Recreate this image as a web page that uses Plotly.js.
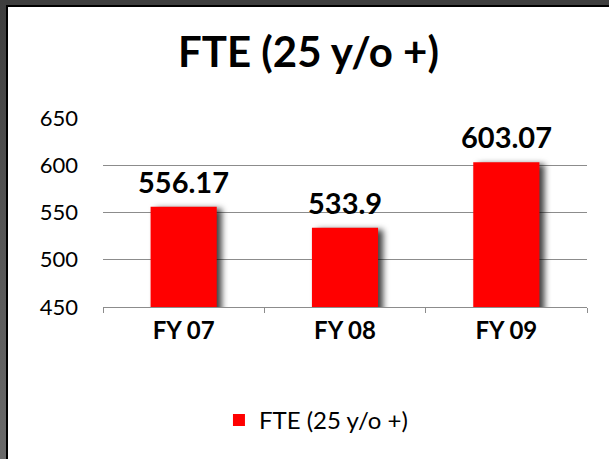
<!DOCTYPE html>
<html>
<head>
<meta charset="utf-8">
<script src="https://cdn.plot.ly/plotly-3.0.1.min.js"></script>
<style>
  html, body { margin: 0; padding: 0; width: 609px; height: 459px; overflow: hidden; background: #3c3c3c; }
  #frame { position: absolute; left: 0; top: 0; width: 609px; height: 459px; background: #3e3e3e; }
  #leftband { position: absolute; left: 0; top: 0; width: 6px; height: 459px;
              background: linear-gradient(to bottom, #3e3e3e 0%, #555 50%, #6a6a6a 100%); }
  #chart { position: absolute; left: 6px; top: 5px; width: 603px; height: 454px;
           border-left: 2px solid #000; border-top: 2px solid #000; background: #fff; }
  .barlayer .point path { filter: drop-shadow(5px 2px 3px rgba(0,0,0,0.75)); }
</style>
</head>
<body>
<div id="frame"><div id="leftband"></div><div id="chart"></div></div>
<script>
const categories = ["FY 07", "FY 08", "FY 09"];
const values = [556.17, 533.9, 603.07];
const labels = ["556.17", "533.9", "603.07"];
const seriesName = "FTE (25 y/o +)";
const titleText = "FTE (25 y/o +)";
const yTicks = [450, 500, 550, 600, 650];

const FONT = "Lato, 'Open Sans', sans-serif";

const trace = {
  type: "bar",
  x: categories,
  y: values,
  name: seriesName,
  marker: { color: "#ff0000" },
  hoverinfo: "none"
};

const annotations = categories.map((c, i) => ({
  x: c, y: values[i], xref: "x", yref: "y",
  text: "<b>" + labels[i] + "</b>",
  showarrow: false, yanchor: "bottom", yshift: 6,
  font: { family: FONT, size: 29, color: "#000" }
}));

const layout = {
  width: 601, height: 452,
  margin: { l: 95, r: 22, t: 111, b: 152 },
  paper_bgcolor: "#ffffff",
  plot_bgcolor: "#ffffff",
  font: { family: FONT, color: "#000" },
  title: { text: "<b>" + titleText + "</b>", x: 0.5, xanchor: "center", y: 0.9, yanchor: "middle",
           font: { family: FONT, size: 42, color: "#000" } },
  bargap: 0.59,
  showlegend: true,
  legend: { orientation: "h", x: 0.44, xanchor: "center", y: -0.6, yanchor: "middle",
            font: { family: FONT, size: 24, color: "#000" } },
  xaxis: {
    type: "category",
    showline: true, linecolor: "#8c8c8c", linewidth: 1,
    ticks: "outside", tickson: "boundaries", ticklen: 5, tickcolor: "#8c8c8c",
    tickfont: { family: FONT, size: 24, color: "#000", weight: "bold" },
    ticklabelstandoff: 2,
    showgrid: false, zeroline: false, fixedrange: true
  },
  yaxis: {
    range: [450, 650],
    tickvals: yTicks,
    ticktext: yTicks.map(String),
    showgrid: true, gridcolor: "#8c8c8c", gridwidth: 1,
    zeroline: false, showline: false, ticks: "",
    tickfont: { family: FONT, size: 22, color: "#000" },
    ticklabelstandoff: 24,
    fixedrange: true
  },
  annotations: annotations
};

Plotly.newPlot("chart", [trace], layout, { displayModeBar: false, staticPlot: true });
</script>
</body>
</html>
